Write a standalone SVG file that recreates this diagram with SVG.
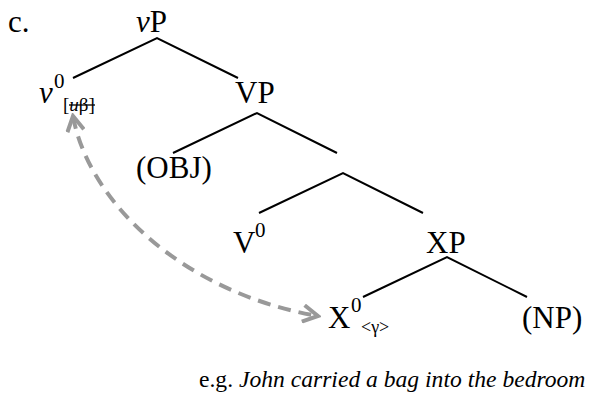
<svg xmlns="http://www.w3.org/2000/svg" width="591" height="407" viewBox="0 0 591 407">
<defs>
<style>
text{font-family:"Liberation Serif","Times New Roman",serif;fill:#000}
.lab{font-size:31px}
.sup{font-size:21px}
.sub{font-size:19px}
.it{font-style:italic}
.edge{stroke:#000;stroke-width:2;fill:none}
.dash{stroke:#999;stroke-width:4;fill:none;stroke-dasharray:13 8}
</style>
<marker id="head" viewBox="0 0 12 12" refX="10" refY="6" markerWidth="5" markerHeight="5" markerUnits="strokeWidth" orient="auto-start-reverse">
<path d="M1,1 L10,6 L1,11" fill="none" stroke="#999" stroke-width="2.4"/>
</marker>
</defs>
<rect width="591" height="407" fill="#fff"/>
<text class="lab" x="8" y="32">c.</text>
<g id="vP"><text class="lab" x="136" y="32"><tspan class="it">v</tspan>P</text></g>
<g id="v0">
<text class="lab it" x="39" y="103">v</text>
<text class="sup" x="54" y="88">0</text>
<text class="sub" x="63" y="111">[<tspan class="it">u</tspan>β]</text>
<line x1="69" y1="105" x2="95" y2="105" stroke="#000" stroke-width="1.3"/>
</g>
<g id="VP"><text class="lab" x="235" y="103">VP</text></g>
<g id="OBJ"><text class="lab" x="136" y="178">(OBJ)</text></g>
<g id="V0"><text class="lab" x="233" y="253">V</text><text class="sup" x="255" y="237">0</text></g>
<g id="XP"><text class="lab" x="426" y="253">XP</text></g>
<g id="X0"><text class="lab" x="328" y="328">X</text><text class="sup" x="351" y="312">0</text><text class="sub" x="361" y="333" style="font-size:18px">&lt;γ&gt;</text></g>
<g id="NP"><text class="lab" x="522" y="328">(NP)</text></g>
<g id="connectors">
<path class="edge" d="M73,78 L157,38 L238,78"/>
<path class="edge" d="M173,153 L257,113 L337,153"/>
<path class="edge" d="M259,213 L343,173 L423,213"/>
<path class="edge" d="M363,297 L447,257 L527,297"/>
<path class="dash" d="M73,116 C88,200 180,292 318,316" marker-start="url(#head)" marker-end="url(#head)"/>
</g>
<text x="199" y="387" style="font-size:23.6px">e.g. <tspan class="it">John carried a bag into the bedroom</tspan></text>
</svg>
